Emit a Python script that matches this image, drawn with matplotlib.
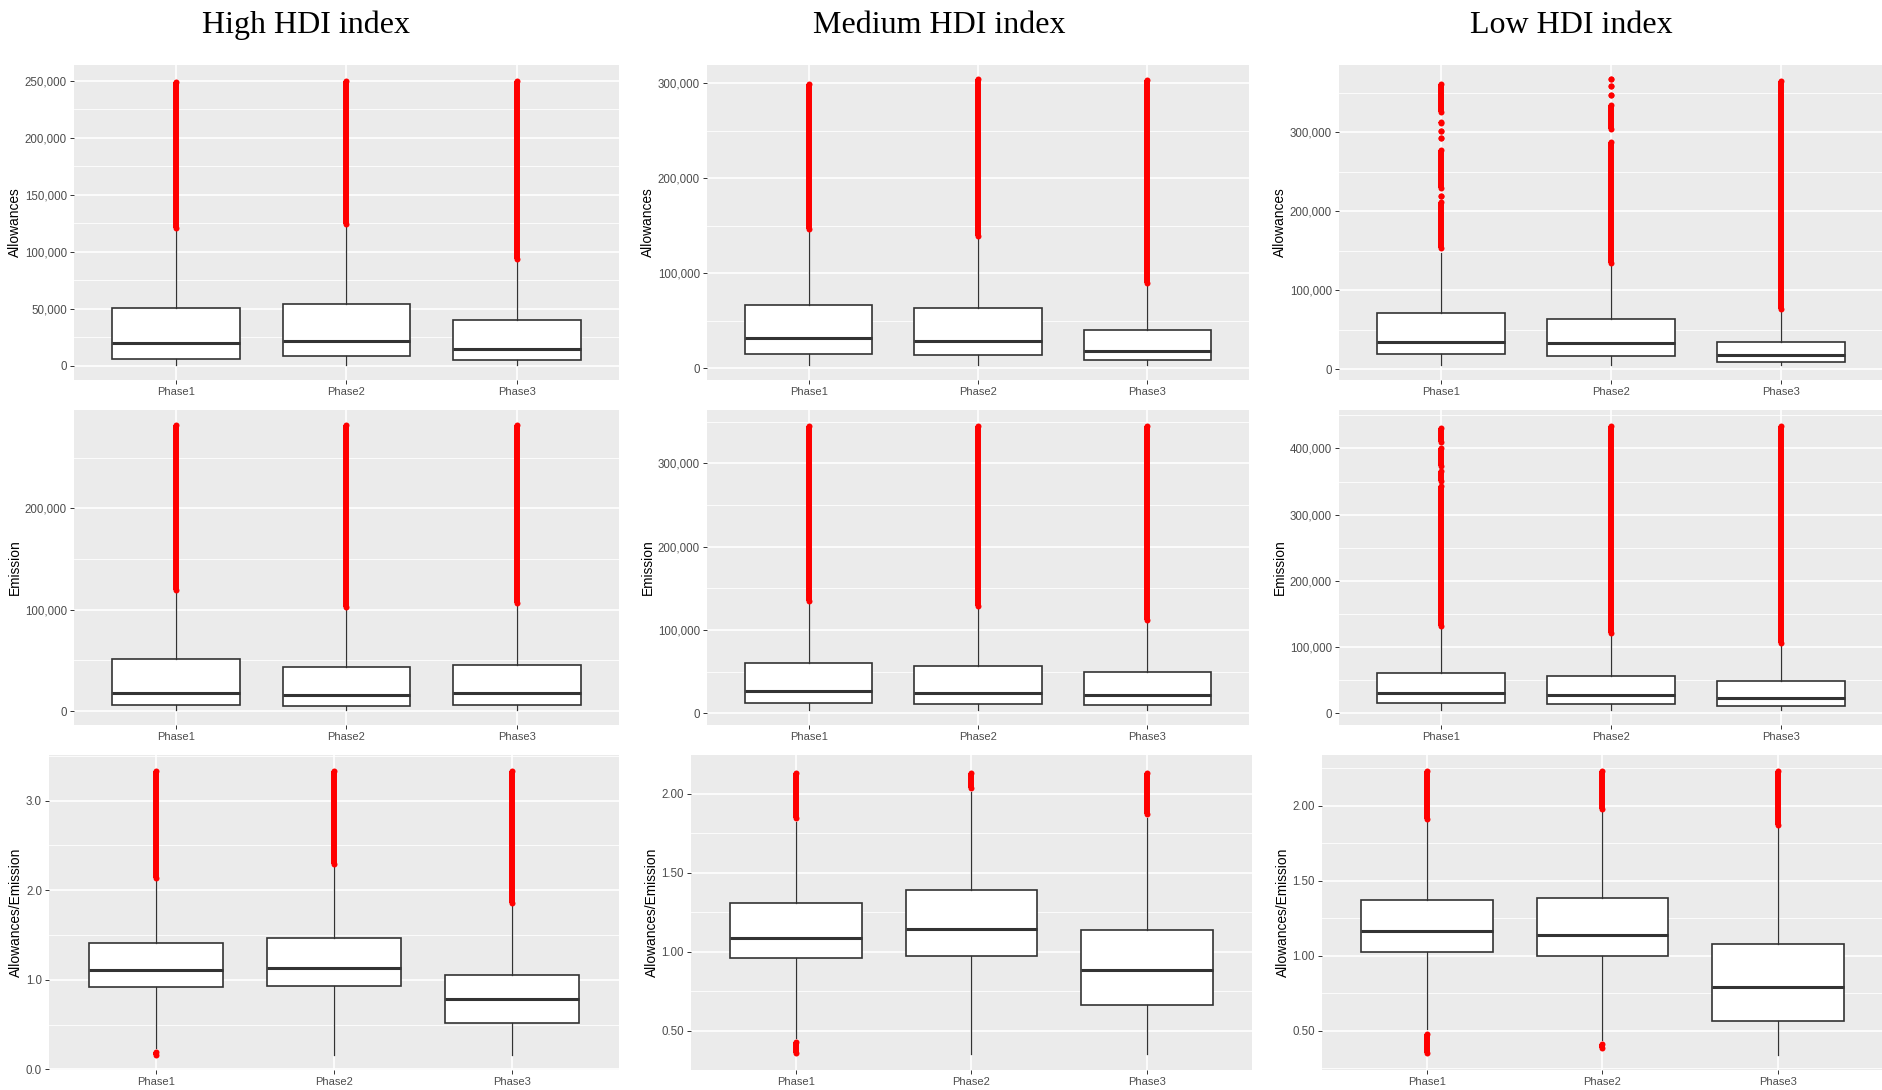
import numpy as np
import matplotlib
matplotlib.use("Agg")
import matplotlib.pyplot as plt
from matplotlib.ticker import FixedLocator, FuncFormatter

# ==========================================
# DATA
# ==========================================
titles = ["High HDI index", "Medium HDI index", "Low HDI index"]
phases = ["Phase1", "Phase2", "Phase3"]
ylabels = ["Allowances", "Emission", "Allowances/Emission"]

# box summaries per phase: (whislo, q1, median, q3, whishi)
high_allow = [(300, 5800, 20400, 51000, 119000),
              (300, 8500, 21900, 54000, 122000),
              (300, 5000, 14600, 40000, 91000)]
med_allow = [(3500, 15100, 31600, 66700, 143000),
             (3500, 14000, 29100, 63200, 136000),
             (3500, 8800, 18200, 40400, 86500)]
low_allow = [(5500, 19400, 35000, 70900, 147500),
             (5500, 17300, 32900, 63300, 130500),
             (5500, 9700, 18100, 35000, 73000)]

high_emis = [(1000, 5900, 18100, 51000, 116800),
             (1000, 5300, 16100, 43800, 100300),
             (1000, 5900, 17400, 45400, 104600)]
med_emis = [(4000, 12800, 26800, 60800, 132000),
            (4000, 11200, 24000, 57200, 126000),
            (4000, 10000, 22000, 49200, 108800)]
low_emis = [(5000, 16100, 31200, 61400, 128300),
            (5000, 14100, 28200, 56400, 118000),
            (5000, 11600, 22600, 49300, 103000)]

high_ratio = [(0.235, 0.923, 1.109, 1.407, 2.114),
              (0.16, 0.930, 1.135, 1.466, 2.263),
              (0.16, 0.521, 0.782, 1.049, 1.835)]
med_ratio = [(0.45, 0.957, 1.088, 1.310, 1.825),
             (0.35, 0.970, 1.141, 1.394, 2.015),
             (0.35, 0.660, 0.884, 1.137, 1.846)]
low_ratio = [(0.51, 1.024, 1.162, 1.371, 1.893),
             (0.44, 0.998, 1.140, 1.382, 1.960),
             (0.34, 0.564, 0.789, 1.078, 1.849)]

# outliers per phase, as runs of overlapping points (lo, hi); lo == hi is a single point
high_allow_out = [[(121000, 249500)], [(124000, 250000)], [(93500, 250000)]]
med_allow_out = [[(146500, 299500)], [(139500, 304000)], [(90000, 303000)]]
low_allow_out = [[(153000, 212000), (219000, 219000), (229000, 277000), (293000, 293000),
                  (302000, 302000), (311000, 313000), (325000, 361000)],
                 [(135000, 287700), (304000, 334000), (347600, 347600),
                  (359000, 359000), (366700, 366700)],
                 [(76000, 365000)]]

high_emis_out = [[(119000, 282000)], [(102500, 282000)], [(107000, 282000)]]
med_emis_out = [[(135000, 345000)], [(129000, 345000)], [(112000, 345000)]]
low_emis_out = [[(132000, 343000), (351000, 366000), (374000, 401000), (409000, 431000)],
                [(121500, 434000)], [(106500, 434000)]]

high_ratio_out = [[(0.16, 0.195), (2.14, 3.33)], [(2.29, 3.33)], [(1.86, 3.33)]]
med_ratio_out = [[(0.355, 0.425), (1.85, 2.135)], [(2.04, 2.135)], [(1.87, 2.135)]]
low_ratio_out = [[(0.35, 0.48), (1.91, 2.23)], [(0.385, 0.41), (1.98, 2.23)], [(1.87, 2.23)]]

# major y ticks per panel
ticks_big = [
    [[0, 50000, 100000, 150000, 200000, 250000], [0, 100000, 200000, 300000], [0, 100000, 200000, 300000]],
    [[0, 100000, 200000], [0, 100000, 200000, 300000], [0, 100000, 200000, 300000, 400000]],
    [[0.0, 1.0, 2.0, 3.0], [0.5, 1.0, 1.5, 2.0], [0.5, 1.0, 1.5, 2.0]],
]

# ==========================================
# LAYOUT
# ==========================================
W, H = 1883, 1090
DPI = 100
RED = "#FF0000"
DARK = "#333333"

summaries = [[high_allow, med_allow, low_allow],
             [high_emis, med_emis, low_emis],
             [high_ratio, med_ratio, low_ratio]]
outliers = [[high_allow_out, med_allow_out, low_allow_out],
            [high_emis_out, med_emis_out, low_emis_out],
            [high_ratio_out, med_ratio_out, low_ratio_out]]
ylims = [[(-12500, 264000), (-12300, 319000), (-13500, 385000)],
         [(-13800, 297000), (-14000, 364000), (-17600, 458000)],
         [(-0.007, 3.51), (0.25, 2.247), (0.238, 2.338)]]
# panel boxes in pixels: left, top, right, bottom
boxes = [[(74, 65, 619, 380), (707, 65, 1249, 380), (1339, 65, 1883, 380)],
         [(74, 410, 619, 725), (707, 410, 1249, 725), (1339, 410, 1883, 725)],
         [(49, 755, 619, 1070), (691, 755, 1252, 1070), (1322, 755, 1883, 1070)]]
title_x = [306, 939, 1571]

fig = plt.figure(figsize=(W / DPI, H / DPI), dpi=DPI)
fig.patch.set_facecolor("white")

sans = ["Liberation Sans", "DejaVu Sans"]

for r in range(3):
    for c in range(3):
        l, t, rr, b = boxes[r][c]
        ax = fig.add_axes([l / W, 1 - b / H, (rr - l) / W, (b - t) / H])
        ax.set_facecolor("#EBEBEB")
        for s in ax.spines.values():
            s.set_visible(False)
        ax.set_axisbelow(True)

        stats = []
        for (wl, q1, med, q3, wh) in summaries[r][c]:
            stats.append(dict(whislo=wl, q1=q1, med=med, q3=q3, whishi=wh, fliers=[]))
        ax.bxp(stats, positions=[1, 2, 3], widths=0.75, patch_artist=True,
               showcaps=False, showfliers=False,
               boxprops=dict(facecolor="white", edgecolor=DARK, linewidth=1.2),
               medianprops=dict(color=DARK, linewidth=2.2, solid_capstyle="butt"),
               whiskerprops=dict(color=DARK, linewidth=0.9))

        for i, runs in enumerate(outliers[r][c]):
            pos = i + 1
            for lo, hi in runs:
                if hi > lo:
                    ax.vlines(pos, lo, hi, color=RED, linewidth=4.3, zorder=4)
                ax.scatter([pos, pos], [lo, hi], s=18.5, color=RED, linewidths=0, zorder=4)

        ax.set_xlim(0.4, 3.6)
        lo_lim, hi_lim = ylims[r][c]
        ax.set_ylim(lo_lim, hi_lim)

        majors = ticks_big[r][c]
        step = majors[1] - majors[0]
        minors = [m for m in np.arange(majors[0] - step / 2, hi_lim, step) if lo_lim < m < hi_lim]
        ax.yaxis.set_major_locator(FixedLocator(majors))
        ax.yaxis.set_minor_locator(FixedLocator(minors))
        if r < 2:
            ax.yaxis.set_major_formatter(FuncFormatter(lambda v, p: f"{v:,.0f}"))
        elif c == 0:
            ax.yaxis.set_major_formatter(FuncFormatter(lambda v, p: f"{v:.1f}"))
        else:
            ax.yaxis.set_major_formatter(FuncFormatter(lambda v, p: f"{v:.2f}"))

        ax.set_xticks([1, 2, 3])
        ax.set_xticklabels(phases, fontfamily=sans, fontsize=8)
        for lab in ax.get_yticklabels():
            lab.set_fontfamily(sans)

        ax.grid(which="major", axis="both", color="white", linewidth=1.2)
        ax.grid(which="minor", axis="y", color="white", linewidth=0.6)
        ax.tick_params(which="major", length=3, width=0.7, color=DARK,
                       labelcolor="#4D4D4D", pad=2)
        ax.tick_params(axis="y", which="major", labelsize=8.3)
        ax.tick_params(which="minor", length=0)

        ax.set_ylabel(ylabels[r], fontsize=9.9, color="black", fontfamily=sans, labelpad=2)

for c in range(3):
    fig.text(title_x[c] / W, 1 - 33 / H, titles[c], ha="center", va="baseline",
             fontsize=23, fontfamily=["Liberation Serif", "DejaVu Serif"])

fig.savefig("out.png", dpi=DPI)
